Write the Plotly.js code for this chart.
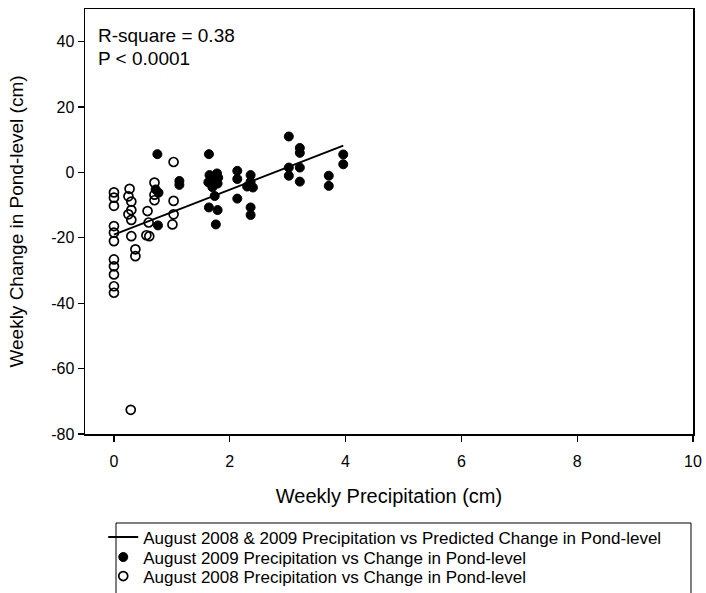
<!DOCTYPE html>
<html>
<head>
<meta charset="utf-8">
<script src="https://cdn.plot.ly/plotly-3.0.1.min.js"></script>
<style>html,body{margin:0;padding:0;background:#fff;}#chart{width:706px;height:593px;}</style>
</head>
<body>
<div id="chart"></div>
<script>
// August 2009 (filled)
var x2009 = [0.75, 0.72, 0.77, 0.76, 1.13, 1.13, 1.64, 1.65, 1.78, 1.68, 1.80, 1.63, 1.79, 1.70, 1.74, 1.64, 1.79, 1.76,
             2.13, 2.13, 2.13, 2.36, 2.36, 2.30, 2.40, 2.36, 2.36,
             3.02, 3.21, 3.21, 3.02, 3.02, 3.21, 3.21, 3.71, 3.71, 3.96, 3.96];
var y2009 = [5.6, -5.2, -6.2, -16.2, -2.6, -3.8, 5.6, -0.8, -0.3, -1.8, -1.6, -3.0, -3.4, -4.5, -7.2, -10.7, -11.5, -15.9,
             0.5, -2.0, -8.0, -0.8, -2.8, -4.3, -4.6, -10.7, -13.0,
             11.0, 7.5, 6.0, 1.5, -1.0, 1.5, -2.8, -1.0, -4.1, 5.5, 2.5];
// August 2008 (open)
var x2008 = [0, 0, 0, 0, 0, 0, 0, 0, 0, 0, 0,
             0.27, 0.25, 0.30, 0.30, 0.25, 0.30, 0.30, 0.37, 0.37, 0.29,
             0.58, 0.60, 0.56, 0.61, 0.70, 0.70, 0.70, 1.03, 1.03, 1.03, 1.01];
var y2008 = [-6.1, -7.7, -10.2, -16.4, -18.4, -21.0, -26.6, -28.7, -31.2, -34.8, -36.8,
             -5.0, -7.3, -8.9, -11.5, -12.8, -14.5, -19.5, -23.5, -25.6, -72.6,
             -11.8, -15.3, -19.2, -19.5, -3.1, -6.8, -8.5, 3.2, -8.7, -12.8, -15.9];
// Fitted line endpoints
var fitX = [0, 3.96];
var fitY = [-19.0, 8.2];
var xTicks = [0, 2, 4, 6, 8, 10];
var yTicks = [-80, -60, -40, -20, 0, 20, 40];

var FONT = "Liberation Sans, Arial, Helvetica, sans-serif";

var traces = [
  {x: fitX, y: fitY, mode: 'lines', type: 'scatter', legend: 'legend',
   name: 'August 2008 & 2009 Precipitation vs Predicted Change in Pond-level',
   line: {color: '#000', width: 2}},
  {x: x2009, y: y2009, mode: 'markers', type: 'scatter', legend: 'legend2',
   name: 'August 2009 Precipitation vs Change in Pond-level',
   marker: {symbol: 'circle', size: 9, color: '#000', line: {color: '#000', width: 1}}},
  {x: x2008, y: y2008, mode: 'markers', type: 'scatter', legend: 'legend3',
   name: 'August 2008 Precipitation vs Change in Pond-level',
   marker: {symbol: 'circle-open', size: 9, color: '#000', line: {color: '#000', width: 1.7}}}
];

function legendAt(y) {
  return {x: 0.03, xanchor: 'left', y: y, yanchor: 'top',
          borderwidth: 0, bgcolor: 'rgba(0,0,0,0)',
          font: {size: 17, family: FONT}};
}

var layout = {
  width: 706, height: 593,
  margin: {l: 85, r: 13, t: 9, b: 159, autoexpand: false},
  paper_bgcolor: '#fff', plot_bgcolor: '#fff',
  font: {family: FONT, color: '#000', size: 16},
  showlegend: true,
  xaxis: {
    range: [-0.5, 10], tickvals: xTicks, ticktext: xTicks.map(String),
    showgrid: false, zeroline: false, showline: true, mirror: true,
    linecolor: '#000', linewidth: 1.5, ticks: 'outside', ticklen: 6, tickwidth: 1.2, tickcolor: '#000',
    tickfont: {size: 16, family: FONT}, ticklabelstandoff: 6,
    title: {text: 'Weekly Precipitation (cm)', font: {size: 20, family: FONT}, standoff: 20}
  },
  yaxis: {
    range: [-80, 50], tickvals: yTicks, ticktext: yTicks.map(String),
    showgrid: false, zeroline: false, showline: true, mirror: true,
    linecolor: '#000', linewidth: 1.5, ticks: 'outside', ticklen: 6, tickwidth: 1.2, tickcolor: '#000',
    tickfont: {size: 16, family: FONT},
    title: {text: 'Weekly Change in Pond-level (cm)', font: {size: 19, family: FONT}, standoff: 22}
  },
  legend: legendAt(-0.2012),
  legend2: legendAt(-0.2482),
  legend3: legendAt(-0.2929),
  shapes: [
    {type: 'rect', xref: 'paper', yref: 'paper', x0: 0.051, x1: 0.9967, y0: -0.2094, y1: -0.40,
     line: {color: '#000', width: 1}, fillcolor: 'rgba(0,0,0,0)', layer: 'below'}
  ],
  annotations: [
    {xref: 'paper', yref: 'paper', x: 0.018, y: 0.9365, xanchor: 'left', yanchor: 'middle',
     text: 'R-square = 0.38', showarrow: false, font: {size: 19, family: FONT}},
    {xref: 'paper', yref: 'paper', x: 0.018, y: 0.8847, xanchor: 'left', yanchor: 'middle',
     text: 'P &lt; 0.0001', showarrow: false, font: {size: 19, family: FONT}}
  ]
};

Plotly.newPlot('chart', traces, layout, {displayModeBar: false, staticPlot: true});
</script>
</body>
</html>
